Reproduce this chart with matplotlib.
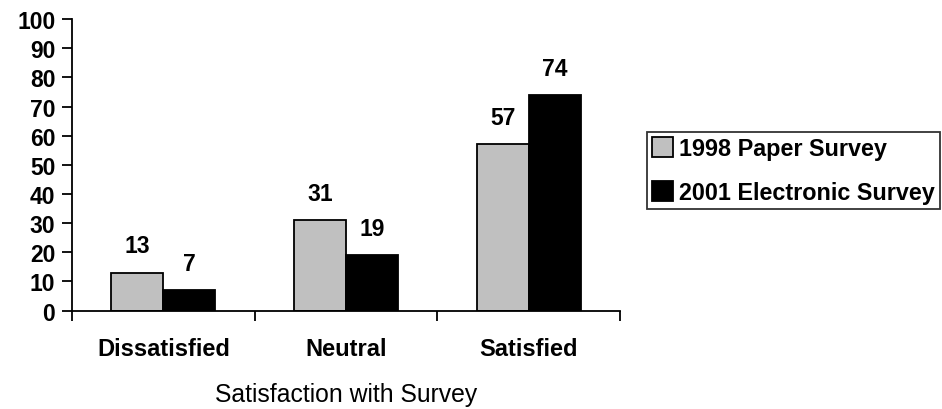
import numpy as np
import matplotlib.pyplot as plt
from matplotlib.ticker import FixedLocator, NullFormatter

# Survey satisfaction, percent of respondents
categories = ['Dissatisfied', 'Neutral', 'Satisfied']
paper_1998 = [13, 31, 57]
electronic_2001 = [7, 19, 74]
series_names = ['1998 Paper Survey', '2001 Electronic Survey']

plt.rcParams['font.family'] = ['Liberation Sans', 'DejaVu Sans']

fig = plt.figure(figsize=(9.42, 4.10), dpi=100)
ax = fig.add_axes([0.0764, 0.240, 0.582, 0.711])

x = np.arange(len(categories))
width = 0.284

rects1 = ax.bar(x - width / 2, paper_1998, width, color='#c0c0c0',
                edgecolor='black', linewidth=1.3, label=series_names[0])
rects2 = ax.bar(x + width / 2, electronic_2001, width, color='black',
                edgecolor='black', linewidth=1.3, label=series_names[1])

# value labels above bars
ax.bar_label(rects1, padding=11, fontsize=16.5, fontweight='bold')
ax.bar_label(rects2, padding=11, fontsize=16.5, fontweight='bold')

ax.set_xlim(-0.5, len(categories) - 0.5)
ax.set_ylim(0, 100)
ax.set_yticks(np.arange(0, 101, 10))

# tick marks between categories, labels centred on them
ax.xaxis.set_major_locator(FixedLocator(np.arange(-0.5, len(categories), 1)))
ax.xaxis.set_major_formatter(NullFormatter())
ax.xaxis.set_minor_locator(FixedLocator(x))
ax.set_xticklabels(categories, minor=True, fontsize=17, fontweight='bold')
ax.tick_params(axis='x', which='major', length=7, width=1.3, direction='out')
ax.tick_params(axis='x', which='minor', length=0, pad=19)
ax.tick_params(axis='y', length=7, width=1.3, pad=5, labelsize=16.5)
for lbl in ax.get_yticklabels():
    lbl.set_fontweight('bold')

ax.spines['top'].set_visible(False)
ax.spines['right'].set_visible(False)
ax.spines['left'].set_linewidth(1.3)
ax.spines['bottom'].set_linewidth(1.3)

ax.set_xlabel('Satisfaction with Survey', fontsize=17.8, labelpad=16)

leg = fig.legend(loc='upper left', bbox_to_anchor=(0.687, 0.676),
                 prop={'weight': 'bold', 'size': 16.8},
                 frameon=True, fancybox=False, edgecolor='black',
                 handlelength=0.9, handleheight=0.9, handletextpad=0.25,
                 labelspacing=0.9, borderpad=0.22, borderaxespad=0)
leg.get_frame().set_linewidth(1.3)

plt.savefig('out.png', dpi=100)
